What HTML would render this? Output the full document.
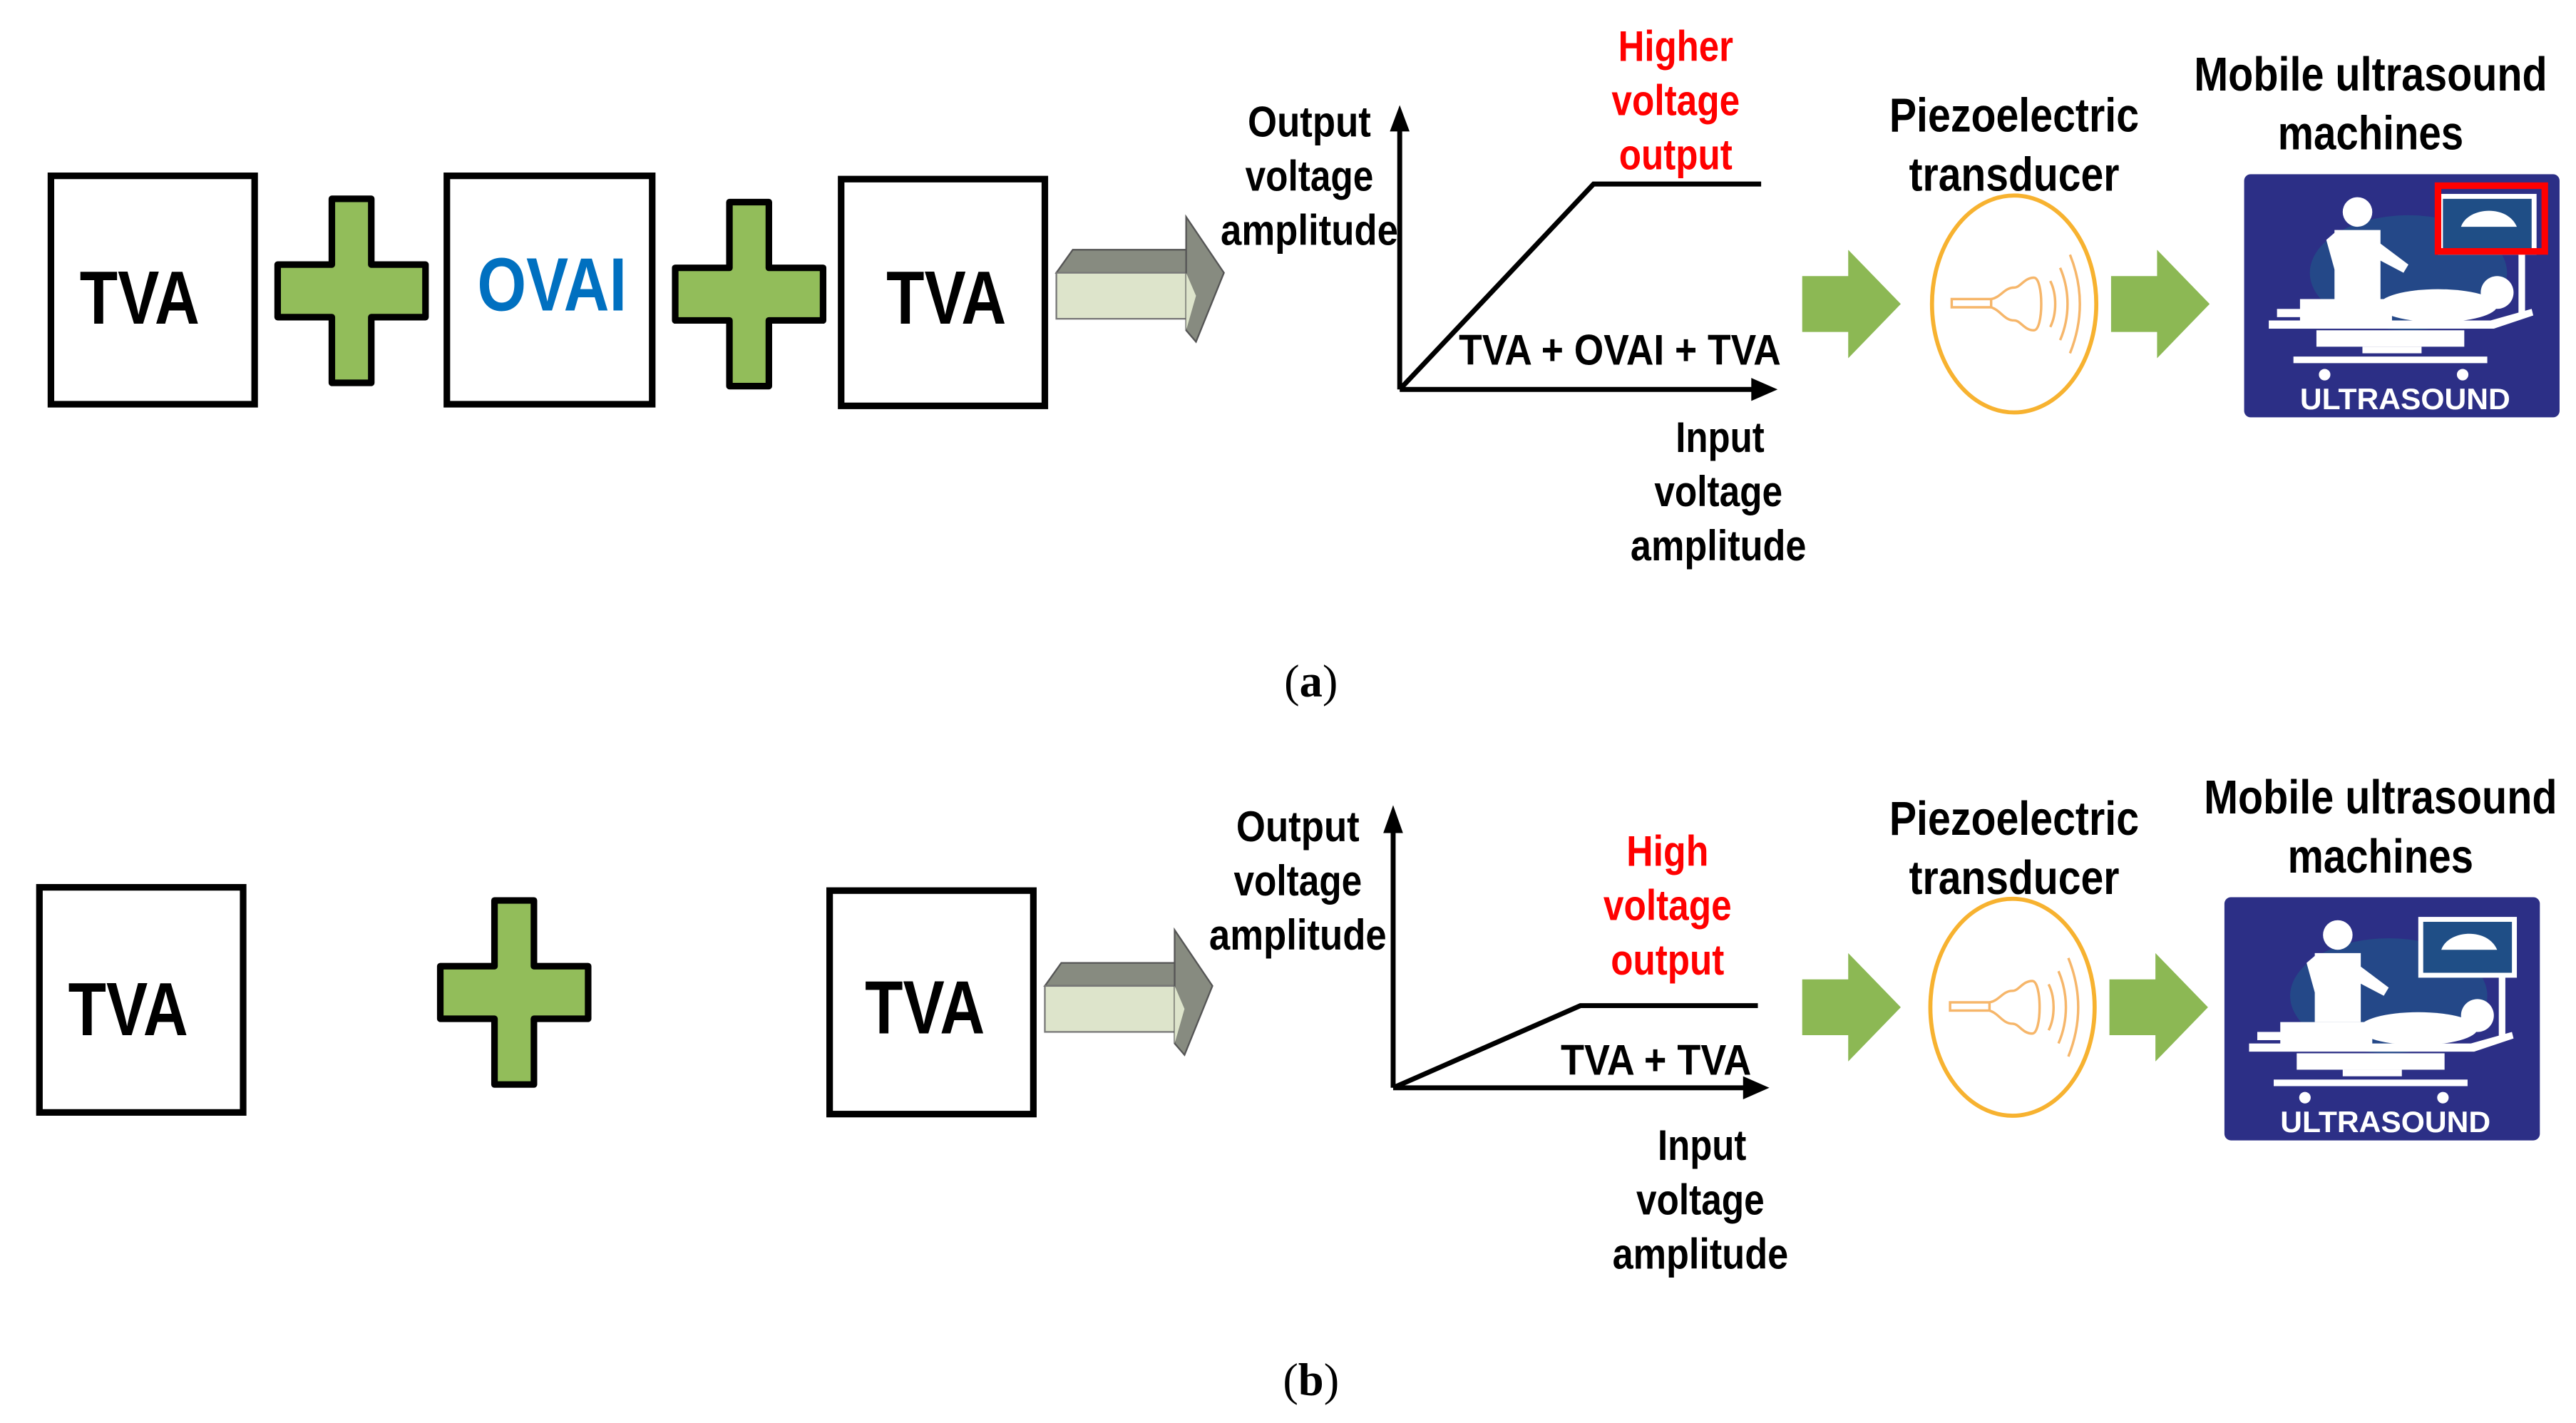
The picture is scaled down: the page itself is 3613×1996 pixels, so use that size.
<!DOCTYPE html>
<html><head><meta charset="utf-8"><style>
html,body{margin:0;padding:0;background:#fff;}
svg{display:block;}
text{font-family:"Liberation Sans Narrow","Liberation Sans",sans-serif;font-weight:bold;}
.s{font-family:"Liberation Serif",serif;font-weight:normal;}
</style></head><body>
<svg width="3613" height="1996" viewBox="0 0 1568 866" preserveAspectRatio="none" xmlns="http://www.w3.org/2000/svg">
<defs>
<g id="plus">
<path d="M-12,-56 H12 V-16 H45 V16 H12 V56 H-12 V16 H-45 V-16 H-12 Z" fill="#92bd5a" stroke="#000" stroke-width="4" stroke-linejoin="round"/>
</g>
<g id="arr3d">
<polygon points="0,31 10,17 80,17 80,31" fill="#878b80" stroke="#555" stroke-width="1"/>
<rect x="0" y="31" width="85" height="28" fill="#dde4cb" stroke="#777" stroke-width="1"/>
<polygon points="79,-3 102,31 85,73 79,66 79,31" fill="#878b80" stroke="#555" stroke-width="1"/>
<polygon points="79,31 85,45 79,66" fill="#dde4cb"/>
</g>
<g id="garrow">
<polygon points="0,-17 28,-17 28,-33 60,0 28,33 28,17 0,17" fill="#8cb854"/>
</g>
<g id="trans">
<ellipse cx="0" cy="0" rx="50" ry="66" fill="#fff" stroke="#f7b230" stroke-width="2.5"/>
<g fill="none" stroke="#f6b66a" stroke-width="1.5">
<rect x="-38" y="-3" width="24" height="5"/>
<path d="M-14,-3 C-8,-4 -6,-10 0,-10 C4,-10 6,-16 12,-16 C18,-16 18,16 12,16 C6,16 4,10 0,10 C-6,10 -8,4 -14,2"/>
<path d="M22,-14 C26,-6 26,6 22,14"/>
<path d="M28,-22 C34,-8 34,8 28,22"/>
<path d="M34,-30 C42,-10 42,10 34,30"/>
</g>
</g>
<g id="icon">
<rect x="0" y="0" width="192" height="148" rx="4" fill="#2c2f86"/>
<ellipse cx="100" cy="60" rx="60" ry="35" fill="#1f5a8a" opacity="0.6"/>
<g fill="#fff">
<circle cx="69" cy="23" r="9"/>
<path d="M55,34 H83 V76 H55 Z"/>
<path d="M50,40 L57,34 L60,55 L55,58 Z"/>
<path d="M80,40 L100,55 L97,60 L78,50 Z"/>
<rect x="118" y="12" width="60" height="37"/>
<rect x="167" y="48" width="4" height="38"/>
<circle cx="154" cy="72" r="10"/>
<ellipse cx="118" cy="80" rx="36" ry="10"/>
<rect x="34" y="76" width="56" height="17"/>
<polygon points="15,89 150,89 175,82 176,86 152,94 15,94"/>
<rect x="20" y="82" width="16" height="5"/>
<rect x="44" y="95" width="90" height="10"/>
<rect x="72" y="105" width="36" height="4"/>
<rect x="30" y="111" width="118" height="4"/>
<circle cx="49" cy="122" r="3.5"/>
<circle cx="133" cy="122" r="3.5"/>
</g>
<rect x="121" y="15" width="54" height="31" fill="#1f4e86"/>
<path d="M132,32 C136,20 160,18 166,32 Z" fill="#fff"/>
<text x="98" y="143" font-size="18" fill="#fff" text-anchor="middle" textLength="128" lengthAdjust="spacingAndGlyphs">ULTRASOUND</text>
</g>
</defs>

<!-- (a) -->
<rect x="31" y="107" width="124" height="139" fill="#fff" stroke="#000" stroke-width="4"/>
<text x="85" y="197" font-size="46" text-anchor="middle" textLength="73" lengthAdjust="spacingAndGlyphs">TVA</text>
<use href="#plus" x="214" y="177"/>
<rect x="272" y="107" width="125" height="139" fill="#fff" stroke="#000" stroke-width="4"/>
<text x="336" y="189" font-size="46" fill="#0070c0" text-anchor="middle" textLength="91" lengthAdjust="spacingAndGlyphs">OVAI</text>
<use href="#plus" x="456" y="179"/>
<rect x="512" y="109" width="124" height="138" fill="#fff" stroke="#000" stroke-width="4"/>
<text x="576" y="197" font-size="46" text-anchor="middle" textLength="73" lengthAdjust="spacingAndGlyphs">TVA</text>
<use href="#arr3d" x="643" y="135"/>

<g stroke="#000" stroke-width="3" fill="none">
<line x1="852" y1="237" x2="852" y2="78"/>
<line x1="852" y1="237" x2="1068" y2="237"/>
<polyline points="852,237 970,112 1072,112"/>
</g>
<polygon points="846,80 852,64 858,80" fill="#000"/>
<polygon points="1066,230 1082,237 1066,244" fill="#000"/>
<g font-size="26" text-anchor="middle">
<text x="797" y="83" textLength="75" lengthAdjust="spacingAndGlyphs">Output</text>
<text x="797" y="116" textLength="78" lengthAdjust="spacingAndGlyphs">voltage</text>
<text x="797" y="149" textLength="108" lengthAdjust="spacingAndGlyphs">amplitude</text>
<text x="1020" y="37" fill="#ff0000" textLength="70" lengthAdjust="spacingAndGlyphs">Higher</text>
<text x="1020" y="70" fill="#ff0000" textLength="78" lengthAdjust="spacingAndGlyphs">voltage</text>
<text x="1020" y="103" fill="#ff0000" textLength="69" lengthAdjust="spacingAndGlyphs">output</text>
<text x="986" y="222" textLength="196" lengthAdjust="spacingAndGlyphs">TVA + OVAI + TVA</text>
<text x="1047" y="275" textLength="54" lengthAdjust="spacingAndGlyphs">Input</text>
<text x="1046" y="308" textLength="78" lengthAdjust="spacingAndGlyphs">voltage</text>
<text x="1046" y="341" textLength="107" lengthAdjust="spacingAndGlyphs">amplitude</text>
</g>
<use href="#garrow" x="1097" y="185"/>
<use href="#trans" x="1226" y="185"/>
<use href="#garrow" x="1285" y="185"/>
<g font-size="29" text-anchor="middle">
<text x="1226" y="80" textLength="152" lengthAdjust="spacingAndGlyphs">Piezoelectric</text>
<text x="1226" y="116" textLength="128" lengthAdjust="spacingAndGlyphs">transducer</text>
<text x="1443" y="55" textLength="215" lengthAdjust="spacingAndGlyphs">Mobile ultrasound</text>
<text x="1443" y="91" textLength="113" lengthAdjust="spacingAndGlyphs">machines</text>
</g>
<use href="#icon" x="1366" y="106"/>
<rect x="1484" y="113" width="65" height="40" fill="none" stroke="#ff0000" stroke-width="4"/>
<text class="s" x="798" y="424" font-size="28" text-anchor="middle">(<tspan font-weight="bold">a</tspan>)</text>

<!-- (b) -->
<rect x="24" y="540" width="124" height="137" fill="#fff" stroke="#000" stroke-width="4"/>
<text x="78" y="630" font-size="46" text-anchor="middle" textLength="73" lengthAdjust="spacingAndGlyphs">TVA</text>
<use href="#plus" x="313" y="604"/>
<rect x="505" y="542" width="124" height="136" fill="#fff" stroke="#000" stroke-width="4"/>
<text x="563" y="629" font-size="46" text-anchor="middle" textLength="73" lengthAdjust="spacingAndGlyphs">TVA</text>
<use href="#arr3d" x="636" y="569"/>

<g stroke="#000" stroke-width="3" fill="none">
<line x1="848" y1="662" x2="848" y2="505"/>
<line x1="848" y1="662" x2="1063" y2="662"/>
<polyline points="848,662 962,612 1070,612"/>
</g>
<polygon points="842,507 848,490 854,507" fill="#000"/>
<polygon points="1061,655 1077,662 1061,669" fill="#000"/>
<g font-size="26" text-anchor="middle">
<text x="790" y="512" textLength="75" lengthAdjust="spacingAndGlyphs">Output</text>
<text x="790" y="545" textLength="78" lengthAdjust="spacingAndGlyphs">voltage</text>
<text x="790" y="578" textLength="108" lengthAdjust="spacingAndGlyphs">amplitude</text>
<text x="1015" y="527" fill="#ff0000" textLength="50" lengthAdjust="spacingAndGlyphs">High</text>
<text x="1015" y="560" fill="#ff0000" textLength="78" lengthAdjust="spacingAndGlyphs">voltage</text>
<text x="1015" y="593" fill="#ff0000" textLength="69" lengthAdjust="spacingAndGlyphs">output</text>
<text x="1008" y="654" textLength="116" lengthAdjust="spacingAndGlyphs">TVA + TVA</text>
<text x="1036" y="706" textLength="54" lengthAdjust="spacingAndGlyphs">Input</text>
<text x="1035" y="739" textLength="78" lengthAdjust="spacingAndGlyphs">voltage</text>
<text x="1035" y="772" textLength="107" lengthAdjust="spacingAndGlyphs">amplitude</text>
</g>
<use href="#garrow" x="1097" y="613"/>
<use href="#trans" x="1225" y="613"/>
<use href="#garrow" x="1284" y="613"/>
<g font-size="29" text-anchor="middle">
<text x="1226" y="508" textLength="152" lengthAdjust="spacingAndGlyphs">Piezoelectric</text>
<text x="1226" y="544" textLength="128" lengthAdjust="spacingAndGlyphs">transducer</text>
<text x="1449" y="495" textLength="215" lengthAdjust="spacingAndGlyphs">Mobile ultrasound</text>
<text x="1449" y="531" textLength="113" lengthAdjust="spacingAndGlyphs">machines</text>
</g>
<use href="#icon" x="1354" y="546"/>
<text class="s" x="798" y="849" font-size="28" text-anchor="middle">(<tspan font-weight="bold">b</tspan>)</text>
</svg>
</body></html>
